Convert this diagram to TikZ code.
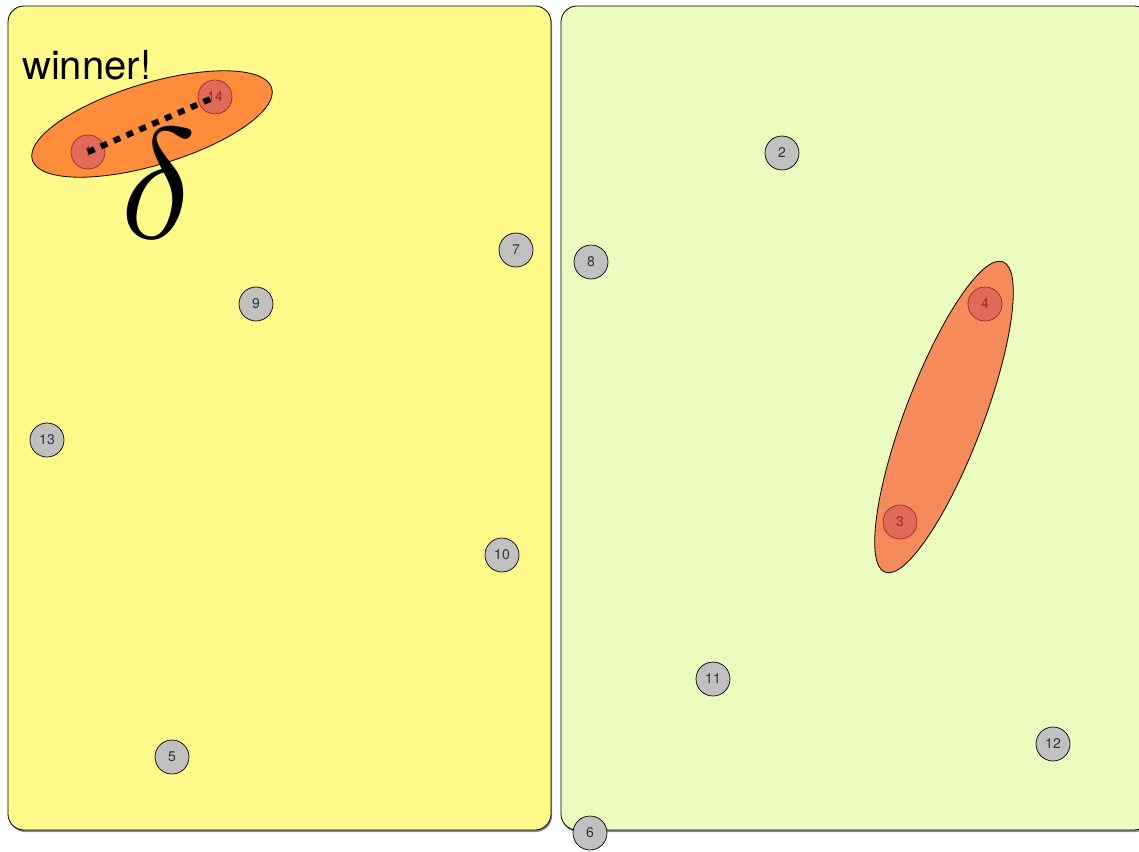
\documentclass[tikz,border=0pt]{standalone}
\usepackage{fontspec}
\setmainfont{TeX Gyre Heros}
\DeclareFontShape{OML}{cmm}{m}{it}{<->cmmi10}{}
\definecolor{leftbg}{RGB}{255,250,138}
\definecolor{rightbg}{RGB}{235,252,190}
\definecolor{orangeA}{RGB}{255,140,58}
\definecolor{orangeB}{RGB}{245,139,90}
\definecolor{redfill}{RGB}{224,106,90}
\definecolor{redline}{RGB}{160,40,30}
\definecolor{redtext}{RGB}{150,40,30}
\definecolor{grayfill}{RGB}{192,192,192}
\tikzset{
  panel/.style={draw=black, line width=0.8pt, rounded corners=16pt},
  shadowbox/.style={fill=black!45, rounded corners=16pt},
  graynode/.style={circle, draw=black, line width=0.7pt, fill=grayfill, minimum size=34pt, inner sep=0pt, font=\fontsize{14}{14}\selectfont, text=black!80},
  rednode/.style={circle, draw=redline, line width=0.7pt, fill=redfill, minimum size=34pt, inner sep=0pt, font=\fontsize{14}{14}\selectfont, text=redtext},
  blob/.style={draw=black, line width=0.8pt},
  dotline/.style={line width=6pt, dash pattern=on 7pt off 7pt, black}
}
\begin{document}
\begin{tikzpicture}[x=1pt,y=-1pt]
\useasboundingbox (0,0) rectangle (1139,851);
\begin{scope}
\clip (0,0) rectangle (1139,851);
% panels
\fill[shadowbox] (9,8) rectangle (552,832);
\draw[panel, fill=leftbg] (8,6) rectangle (551,830);
\fill[shadowbox] (562,8) rectangle (1151,832);
\draw[panel, fill=rightbg] (561,6) rectangle (1150,830);
% ellipses
\draw[blob, fill=orangeA, shift={(152,124)}, rotate=16.7] (0,0) ellipse [x radius=125, y radius=41];
\draw[blob, fill=orangeB, shift={(944,417)}, rotate=69.2] (0,0) ellipse [x radius=166, y radius=39];
% nodes
\node[rednode] (n1) at (88,152) {1};
\node[rednode] (n14) at (215,97) {14};
\node[rednode] (n4) at (985,304) {4};
\node[rednode] (n3) at (900,522) {3};
\node[graynode] (n2) at (782,153) {2};
\node[graynode] (n7) at (516,250) {7};
\node[graynode] (n8) at (591,262) {8};
\node[graynode] (n9) at (256,304) {9};
\node[graynode] (n13) at (47,440) {13};
\node[graynode] (n10) at (502,555) {10};
\node[graynode] (n11) at (713,679) {11};
\node[graynode] (n12) at (1053,744) {12};
\node[graynode] (n5) at (172,757) {5};
\node[graynode] (n6) at (590,833) {6};
% dotted connector
\draw[dotline] (n1.center) -- (n14.center);
% labels
\node[anchor=base west, inner sep=0pt, font=\fontsize{40}{40}\selectfont] (win) at (22,79) {winner!};
\node[anchor=base, inner sep=0pt, font=\fontsize{158}{158}\selectfont] (delta) at (159,238) {$\delta$};
\end{scope}
\end{tikzpicture}
\end{document}
